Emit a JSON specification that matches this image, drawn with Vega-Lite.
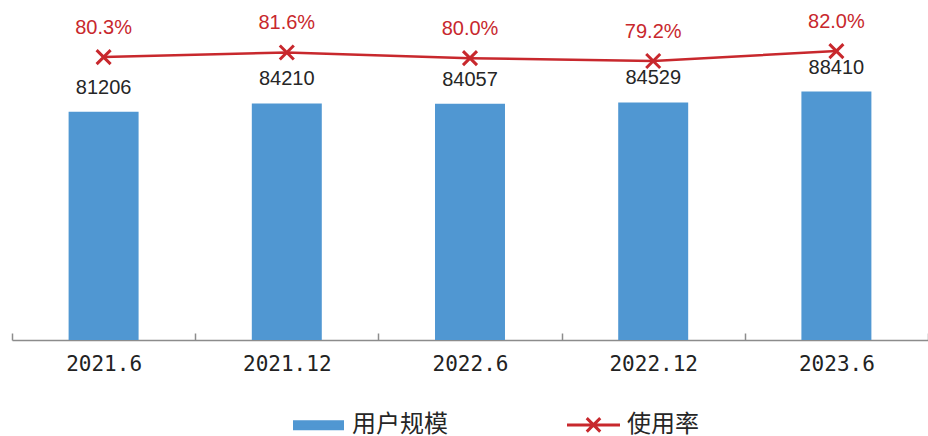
{
  "$schema": "https://vega.github.io/schema/vega-lite/v6.json",
  "width": 916,
  "height": 340,
  "autosize": {"type": "none"},
  "padding": {"left": 12, "top": 0, "right": 0, "bottom": 96},
  "background": "white",
  "config": {"view": {"stroke": null}, "font": "Liberation Sans"},
  "data": {"values": [
    {"period": "2021.6", "users": 81206, "rate": 0.803},
    {"period": "2021.12", "users": 84210, "rate": 0.816},
    {"period": "2022.6", "users": 84057, "rate": 0.800},
    {"period": "2022.12", "users": 84529, "rate": 0.792},
    {"period": "2023.6", "users": 88410, "rate": 0.820}
  ]},
  "encoding": {
    "x": {
      "field": "period", "type": "nominal", "sort": null,
      "scale": {"paddingInner": 0, "paddingOuter": 0},
      "axis": {
        "title": null, "labelAngle": 0, "tickBand": "extent",
        "domainColor": "#8c8c8c", "domainWidth": 1.5,
        "tickColor": "#8c8c8c", "tickWidth": 1.5, "tickSize": -7,
        "labelFont": "DejaVu Sans Mono", "labelFontSize": 21, "labelColor": "#222222",
        "labelPadding": 20
      }
    }
  },
  "layer": [
    {
      "mark": {"type": "bar", "width": {"band": 0.382}},
      "encoding": {
        "y": {"field": "users", "type": "quantitative", "scale": {"domain": [0, 121000], "nice": false}, "axis": null},
        "color": {
          "datum": "用户规模", "type": "nominal",
          "scale": {"domain": ["用户规模", "使用率"], "range": ["#5097D2", "#C8282D"]},
          "legend": {
            "orient": "none", "legendX": 280, "legendY": 398, "direction": "horizontal",
            "title": null, "padding": 0,
            "labelFont": "Noto Sans CJK SC", "labelFontSize": 24, "labelColor": "#262626",
            "symbolSize": 2500, "labelOffset": 7, "columnPadding": 113,
            "encode": {
              "symbols": {
                "update": {
                  "shape": {"signal": "datum.value === '用户规模' ? 'M-0.96,-0.14H0.96V0.14H-0.96Z' : 'M-1.06,0H1.06M-0.27,-0.27L0.27,0.27M0.27,-0.27L-0.27,0.27'"},
                  "fill": {"signal": "datum.value === '用户规模' ? '#5097D2' : 'transparent'"},
                  "stroke": {"signal": "datum.value === '用户规模' ? 'transparent' : '#C8282D'"},
                  "strokeWidth": {"value": 3},
                  "opacity": {"value": 1}
                }
              }
            }
          }
        }
      }
    },
    {
      "mark": {"type": "text", "dy": -24, "baseline": "middle", "fontSize": 20, "color": "#262626"},
      "encoding": {
        "y": {"field": "users", "type": "quantitative", "scale": {"domain": [0, 121000], "nice": false}, "axis": null},
        "text": {"field": "users", "type": "quantitative", "format": "d"}
      }
    },
    {
      "layer": [
        {
          "mark": {"type": "line", "strokeWidth": 2.5},
          "encoding": {
            "y": {"field": "rate", "type": "quantitative", "scale": {"domain": [0, 0.965], "nice": false}, "axis": null},
            "color": {"datum": "使用率", "type": "nominal"}
          }
        },
        {
          "mark": {"type": "point", "shape": "M-1,-1L1,1M1,-1L-1,1", "filled": false, "stroke": "#C8282D", "strokeWidth": 3, "size": 196, "opacity": 1},
          "encoding": {
            "y": {"field": "rate", "type": "quantitative", "scale": {"domain": [0, 0.965], "nice": false}, "axis": null}
          }
        },
        {
          "mark": {"type": "text", "dy": -29, "baseline": "middle", "fontSize": 20, "color": "#C8282D"},
          "encoding": {
            "y": {"field": "rate", "type": "quantitative", "scale": {"domain": [0, 0.965], "nice": false}, "axis": null},
            "text": {"field": "rate", "type": "quantitative", "format": ".1%"}
          }
        }
      ]
    }
  ],
  "resolve": {"scale": {"y": "independent"}}
}
